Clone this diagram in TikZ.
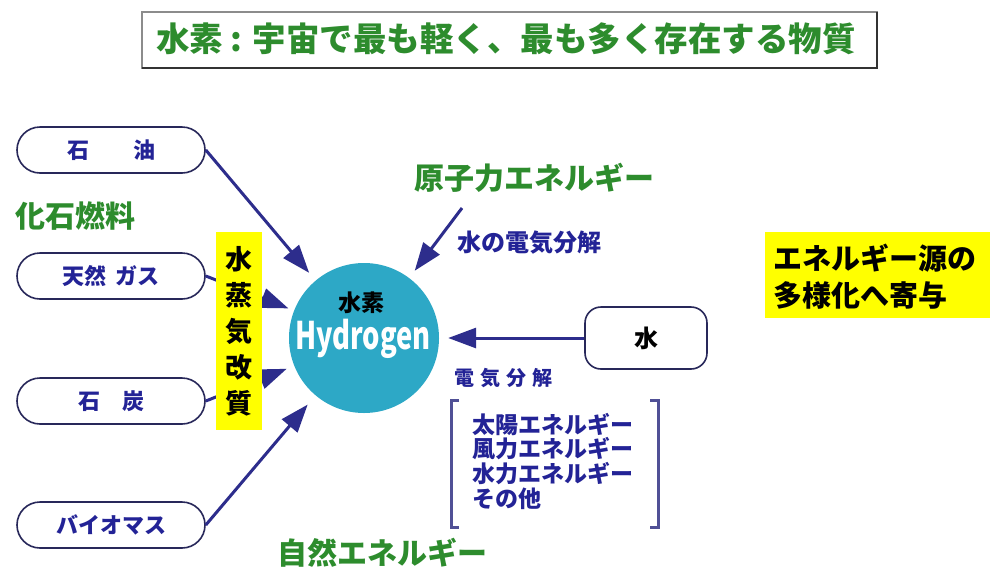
\documentclass[tikz,border=0pt]{standalone}
\usepackage{fontspec}
\newfontfamily\jp{Noto Sans CJK JP}
\usetikzlibrary{arrows.meta}
\definecolor{jgreen}{RGB}{45,140,45}
\definecolor{navy}{RGB}{45,45,140}
\definecolor{jblue}{RGB}{35,35,150}
\definecolor{hcyan}{RGB}{45,168,198}
\definecolor{jyellow}{RGB}{255,255,0}
\definecolor{pillc}{RGB}{40,40,90}
\definecolor{brk}{RGB}{80,80,150}
\newcommand{\fs}[1]{\fontsize{#1}{#1}\selectfont}
\begin{document}
\begin{tikzpicture}[x=1pt,y=-1pt,
  pill/.style={draw=pillc, line width=1.6pt, rounded corners=23pt, minimum width=188pt,
    minimum height=46pt, inner sep=0pt, fill=white, text=jblue, font=\jp\bfseries\fs{22}},
  arr/.style={draw=navy, line width=3pt, -{Triangle[length=28pt,width=20pt]}},
  glabel/.style={text=jgreen, font=\jp\bfseries\fs{30}, inner sep=0pt},
  blabel/.style={text=jblue, font=\jp\bfseries\fs{23}, inner sep=0pt},
  ybox/.style={fill=jyellow, inner sep=0pt}
]
\useasboundingbox[fill=white] (0,0) rectangle (1006,571);

% title
\draw[black!45, line width=1.2pt] (142,12) rectangle (877,68);
\draw[black!80, line width=2.2pt] (877,12) -- (877,68) -- (142,68);
\node[text=jgreen, font=\jp\bfseries\fs{33.5}, inner sep=0pt] (title) at (506,39) {水素 : 宇宙で最も軽く、最も多く存在する物質};

% hydrogen circle
\node[circle, fill=hcyan, minimum size=150pt, inner sep=0pt] (h) at (364,338) {};
\node[font=\jp\bfseries\fs{23}, text=black, inner sep=0pt] (hj) at (361,303) {水素};
\node[font=\jp\bfseries\fs{38}, text=white, inner sep=0pt, xscale=0.72] (he) at (363,339) {Hydrogen};

% source pills
\node[pill] (oil) at (111,150) {石\hspace{2em}油};
\node[pill] (gas) at (111,276) {天然\hspace{0.4em}ガス};
\node[pill] (coal) at (111,401) {石\hspace{1em}炭};
\node[pill] (bio) at (111,525) {バイオマス};

\node[glabel] (fossil) at (76,216) {化石燃料};

% arrows from sources
\draw[arr, shorten >=10pt] (oil.east) -- (h);
\draw[arr, shorten >=6pt] (gas.east) -- (h);
\draw[arr, shorten >=8pt] (coal.east) -- (h);
\draw[arr, shorten >=12pt] (bio.east) -- (h);

% steam reforming box
\node[ybox, minimum width=46pt, minimum height=198pt, font=\jp\bfseries\fs{27}, text=black, align=center]
  (steam) at (239,331) {水\\[9pt]蒸\\[9pt]気\\[9pt]改\\[9pt]質};

% nuclear
\node[glabel] (nuc) at (534,178) {原子力エネルギー};
\coordinate (n1) at (462,208);
\draw[arr, shorten >=9pt] (n1) -- (h);
\node[blabel, font=\jp\bfseries\fs{24}] (elec1) at (529,243) {水の電気分解};

% water
\node[draw=pillc, line width=1.6pt, rounded corners=16pt, minimum width=122pt, minimum height=62pt,
  inner sep=0pt, font=\jp\bfseries\fs{24}, text=black] (water) at (646,338) {水};
\draw[arr, shorten >=9pt] (water.west) -- (h);
\node[blabel, font=\jp\bfseries\fs{20}] (elec2) at (503,378) {電\hspace{0.3em}気\hspace{0.3em}分\hspace{0.3em}解};

% bracket list
\draw[brk, line width=3pt] (459,400) -- (451,400) -- (451,527) -- (459,527);
\draw[brk, line width=3pt] (650,400) -- (658,400) -- (658,527) -- (650,527);
\node[blabel, anchor=west] (l1) at (472,425) {太陽エネルギー};
\node[blabel, anchor=west] (l2) at (472,449) {風力エネルギー};
\node[blabel, anchor=west] (l3) at (472,474) {水力エネルギー};
\node[blabel, anchor=west] (l4) at (472,499) {その他};

\node[glabel] (nat) at (382,553) {自然エネルギー};

% right box
\node[ybox, minimum width=225pt, minimum height=86pt] (div) at (877,275) {};
\node[font=\jp\bfseries\fs{29}, text=black, inner sep=0pt, anchor=west] (d1) at (773,258) {エネルギー源の};
\node[font=\jp\bfseries\fs{29}, text=black, inner sep=0pt, anchor=west] (d2) at (773,295) {多様化へ寄与};
\end{tikzpicture}
\end{document}
